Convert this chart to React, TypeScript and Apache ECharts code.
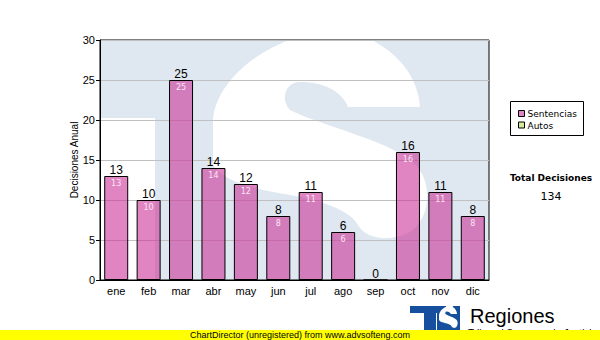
import React, { useEffect, useRef } from "react";
import * as echarts from "echarts";

const months = ["ene", "feb", "mar", "abr", "may", "jun", "jul", "ago", "sep", "oct", "nov", "dic"];
const sentencias = [13, 10, 25, 14, 12, 8, 11, 6, 0, 16, 11, 8];
const autos = [0, 0, 0, 0, 0, 0, 0, 0, 0, 0, 0, 0];
const seriesNames = ["Sentencias", "Autos"];
const yMin = 0;
const yMax = 30;
const yInterval = 5;
const yName = "Decisiones Anual";
const totalTitle = "Total Decisiones";
const brandName = "Regiones";
const brandSub = "Tribunal Supremo de Justicia";
const footerText = "ChartDirector (unregistered) from www.advsofteng.com";

const S_PATH =
  "M 213 165 L 213 120 C 215 90 245 55 295 38 L 296 25 L 372 25 L 372 40 " +
  "C 400 55 418 78 420 107 L 348 107 C 342 92 325 82 300 82 " +
  "C 285 82 280 100 290 110 C 320 125 385 140 410 160 " +
  "C 432 175 434 215 410 232 C 392 242 366 240 358 225 " +
  "C 350 210 320 200 290 195 C 250 188 225 182 213 165 Z";

let registered = false;
function ensureShape() {
  if (registered) return;
  try {
    echarts.graphic.registerShape("sLogo", echarts.graphic.extendPath(S_PATH, {}) as any);
  } catch (e) {}
  registered = true;
}

const LIGHT_BLUE = "#dfe8f1";
const BAR_COLOR = "rgba(204,51,153,0.6)";
const AUTOS_COLOR = "#d4ec9c";
const LOGO_BLUE = "#164f9e";

export default function App() {
  const ref = useRef<HTMLDivElement>(null);
  useEffect(() => {
    if (!ref.current) return;
    ensureShape();
    const chart = echarts.init(ref.current, undefined, { renderer: "svg" });
    const total = sentencias.reduce((a, b) => a + b, 0) + autos.reduce((a, b) => a + b, 0);
    const font = "Liberation Sans, Arial, sans-serif";
    const vfont = "DejaVu Sans, Verdana, sans-serif";
    const option: any = {
      animation: false,
      backgroundColor: "#ffffff",
      grid: {
        left: 100,
        top: 40,
        width: 389,
        height: 240,
        show: true,
        borderColor: "#000",
        borderWidth: 1,
        backgroundColor: "transparent",
      },
      xAxis: {
        type: "category",
        data: months,
        axisLine: { lineStyle: { color: "#000", width: 1 } },
        axisTick: { alignWithLabel: true, length: 4, lineStyle: { color: "#000" } },
        axisLabel: { color: "#000", fontSize: 11, fontFamily: font, margin: 5 },
      },
      yAxis: {
        type: "value",
        min: yMin,
        max: yMax,
        interval: yInterval,
        name: yName,
        nameLocation: "middle",
        nameGap: 21,
        nameMoveOverlap: false,
        nameTextStyle: { color: "#000", fontSize: 10, fontFamily: font },
        axisLine: { show: true, lineStyle: { color: "#000", width: 1 } },
        axisTick: { show: true, length: 4, lineStyle: { color: "#000" } },
        axisLabel: { color: "#000", fontSize: 11, fontFamily: font, margin: 5 },
        splitLine: { show: true, lineStyle: { color: "#c0c0c0", width: 1 } },
      },
      series: [
        {
          name: seriesNames[0],
          type: "bar",
          stack: "total",
          data: sentencias,
          barWidth: 24,
          itemStyle: { color: BAR_COLOR, borderColor: "#000", borderWidth: 1 },
          label: {
            show: true,
            position: "insideTop",
            distance: 3,
            color: "#fbe6f5",
            fontSize: 8,
            fontFamily: vfont,
            formatter: (p: any) => (p.value ? String(p.value) : ""),
          },
          z: 3,
        },
        {
          name: seriesNames[1],
          type: "bar",
          stack: "total",
          data: autos,
          barWidth: 24,
          itemStyle: { color: AUTOS_COLOR, borderWidth: 0 },
          label: {
            show: true,
            position: "top",
            distance: 0,
            color: "#000",
            fontSize: 12,
            fontFamily: font,
            formatter: (p: any) => String(sentencias[p.dataIndex] + autos[p.dataIndex]),
          },
          z: 3,
        },
      ],
      graphic: [
        // watermark
        { type: "rect", z: -10, silent: true, shape: { x: 100, y: 40, width: 389, height: 240 }, style: { fill: LIGHT_BLUE } },
        { type: "rect", z: -9, silent: true, shape: { x: 100, y: 118, width: 55, height: 162 }, style: { fill: "#fff" } },
        { type: "sLogo", z: -9, silent: true, x: 0, y: 0, style: { fill: "#fff" } },
        { type: "rect", z: -9, silent: true, shape: { x: 0, y: 0, width: 600, height: 39.5 }, style: { fill: "#fff" } },
        // legend
        { type: "rect", z: 50, shape: { x: 510.5, y: 101.5, width: 73, height: 34 }, style: { fill: "#fff", stroke: "#000", lineWidth: 1 } },
        { type: "rect", z: 51, shape: { x: 518.5, y: 110.5, width: 6, height: 6 }, style: { fill: BAR_COLOR, stroke: "#000", lineWidth: 1 } },
        { type: "rect", z: 51, shape: { x: 518.5, y: 122, width: 6, height: 6 }, style: { fill: AUTOS_COLOR, stroke: "#000", lineWidth: 1 } },
        { type: "text", z: 51, x: 527.5, y: 114, style: { text: seriesNames[0], fill: "#000", fontSize: 9, fontFamily: vfont, textAlign: "left", textVerticalAlign: "middle" } },
        { type: "text", z: 51, x: 527.5, y: 125.5, style: { text: seriesNames[1], fill: "#000", fontSize: 9, fontFamily: vfont, textAlign: "left", textVerticalAlign: "middle" } },
        // total
        { type: "text", z: 51, x: 551, y: 178, style: { text: totalTitle, fill: "#000", fontSize: 9, fontWeight: "bold", fontFamily: vfont, textAlign: "center", textVerticalAlign: "middle" } },
        { type: "text", z: 51, x: 551, y: 196, style: { text: String(total), fill: "#000", fontSize: 11, fontFamily: vfont, textAlign: "center", textVerticalAlign: "middle" } },
        // bottom logo
        { type: "rect", z: 60, shape: { x: 410, y: 306, width: 28, height: 7 }, style: { fill: LOGO_BLUE } },
        { type: "rect", z: 60, shape: { x: 424, y: 306, width: 12, height: 26 }, style: { fill: LOGO_BLUE } },
        { type: "rect", z: 60, shape: { x: 437, y: 306, width: 23, height: 26 }, style: { fill: LOGO_BLUE } },
        { type: "sLogo", z: 61, x: 420.5, y: 302.8, scaleX: 0.0868, scaleY: 0.105, style: { fill: "#fff" } },
        { type: "text", z: 60, x: 470, y: 316, style: { text: brandName, fill: "#000", fontSize: 20, fontFamily: font, textAlign: "left", textVerticalAlign: "middle" } },
        { type: "text", z: 60, x: 468, y: 333.5, style: { text: brandSub, fill: "#000", fontSize: 10, fontFamily: font, textAlign: "left", textVerticalAlign: "middle" } },
        // footer
        { type: "rect", z: 70, shape: { x: 0, y: 330, width: 600, height: 10 }, style: { fill: "#ffff00" } },
        { type: "text", z: 71, x: 300, y: 335, style: { text: footerText, fill: "#000", fontSize: 9, fontFamily: font, textAlign: "center", textVerticalAlign: "middle" } },
      ],
    };
    chart.setOption(option);
    return () => chart.dispose();
  }, []);
  return (
    <div
      ref={ref}
      style={{ position: "fixed", left: 0, top: 0, width: 600, height: 340, background: "#fff" }}
    />
  );
}
